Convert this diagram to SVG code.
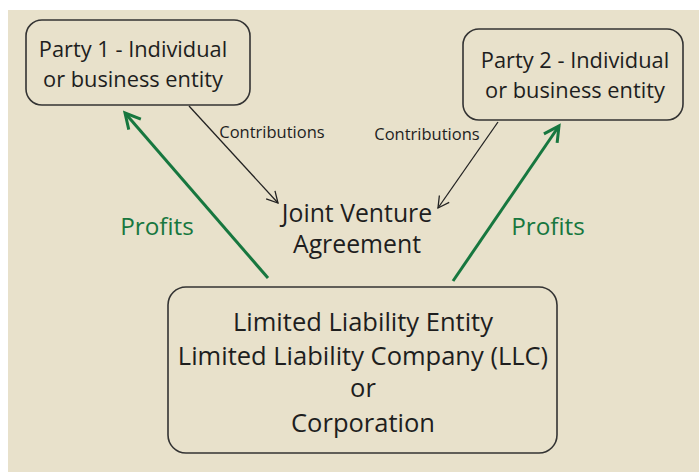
<svg xmlns="http://www.w3.org/2000/svg" width="699" height="472" viewBox="0 0 699 472">
<defs>
<marker id="blk" markerWidth="14" markerHeight="14" refX="12" refY="7" orient="auto" markerUnits="userSpaceOnUse">
<path d="M1,1 L12,7 L1,13" fill="none" stroke="#222" stroke-width="1.3"/>
</marker>
<marker id="grn" markerWidth="20" markerHeight="20" refX="17" refY="10" orient="auto" markerUnits="userSpaceOnUse">
<path d="M2,2 L17,10 L2,18" fill="none" stroke="#17773f" stroke-width="3"/>
</marker>
</defs>
<style>
.box{fill:none;stroke:#333;stroke-width:1.6}
text{font-family:"Open Sans","Noto Sans",sans-serif;fill:#1e1e1e;text-anchor:middle}
.t{font-size:21.8px}
.c{font-size:16.5px}
.j{font-size:24.8px}
.b{font-size:25.5px}
.p{font-size:24.3px;fill:#17773f}
</style>
<rect x="0" y="0" width="699" height="472" fill="#ffffff"/>
<rect x="8" y="10" width="691" height="462" fill="#e8e1cb"/>
<g id="connectors">
<line x1="189" y1="106" x2="278" y2="203" stroke="#222" stroke-width="1.3" marker-end="url(#blk)"/>
<line x1="498" y1="122" x2="438" y2="208" stroke="#222" stroke-width="1.3" marker-end="url(#blk)"/>
<line x1="268" y1="278" x2="125" y2="113" stroke="#17773f" stroke-width="3" marker-end="url(#grn)"/>
<line x1="453" y1="281" x2="559" y2="126" stroke="#17773f" stroke-width="3" marker-end="url(#grn)"/>
<text class="c" x="272" y="138">Contributions</text>
<text class="c" x="427" y="140">Contributions</text>
<text class="p" x="157" y="235">Profits</text>
<text class="p" x="548" y="235">Profits</text>
</g>
<g id="party1">
<rect class="box" x="26" y="20" width="224" height="85" rx="16"/>
<text class="t" x="133" y="57">Party 1 - Individual</text>
<text class="t" x="133" y="87">or business entity</text>
</g>
<g id="party2">
<rect class="box" x="463" y="29" width="220" height="91" rx="16"/>
<text class="t" x="575" y="68">Party 2 - Individual</text>
<text class="t" x="575" y="98">or business entity</text>
</g>
<g id="jva">
<text class="j" x="357" y="222">Joint Venture</text>
<text class="j" x="357" y="253">Agreement</text>
</g>
<g id="llc">
<rect class="box" x="168" y="287" width="389" height="166" rx="18"/>
<text class="b" x="363" y="331">Limited Liability Entity</text>
<text class="b" x="363" y="365">Limited Liability Company (LLC)</text>
<text class="b" x="363" y="397">or</text>
<text class="b" x="363" y="432">Corporation</text>
</g>
</svg>
